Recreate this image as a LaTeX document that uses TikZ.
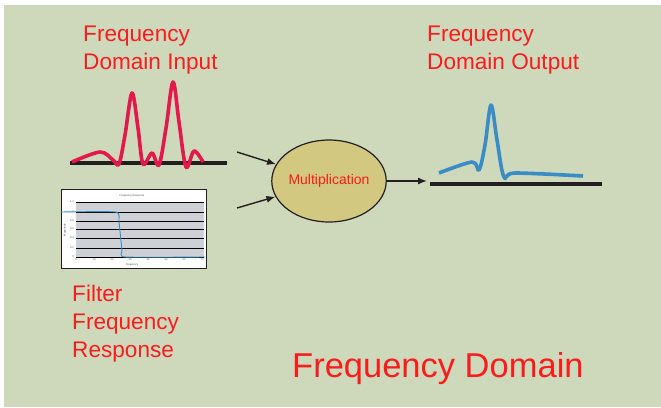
\documentclass[tikz,border=0pt]{standalone}
\usepackage{fontspec}
\setmainfont{Liberation Sans}
\usetikzlibrary{arrows.meta,shapes.geometric}
\definecolor{bggreen}{HTML}{CED9BB}
\definecolor{labelred}{HTML}{F81C1C}
\definecolor{peakred}{HTML}{E3194B}
\definecolor{peakblue}{HTML}{3A8CC6}
\definecolor{inkblack}{HTML}{231F20}
\definecolor{multfill}{HTML}{D3C880}
\definecolor{plotgrey}{HTML}{CDD0D4}
\begin{document}
\begin{tikzpicture}[x=1pt,y=-1pt,
  lbl/.style={text=labelred,inner sep=0pt,align=left,anchor=base west,font=\fontsize{22.6}{28}\selectfont},
  arr/.style={draw=inkblack,line width=1.4pt,-{Latex[length=9pt,width=7pt]}},
  baseline/.style={draw=inkblack,line width=3.2pt},
  tiny/.style={inner sep=0pt,text=black!70,font=\fontsize{2.6}{3}\selectfont}]
\useasboundingbox (0,0) rectangle (661,407);
\fill[white] (0,0) rectangle (661,407);
\fill[bggreen] (4,5) rectangle (661,407);

% labels (base anchor sits on the last line)
\node[lbl] (inlbl) at (83,69) {Frequency\\Domain Input};
\node[lbl] (outlbl) at (427,69) {Frequency\\Domain Output};
\node[lbl] (filtlbl) at (72,357) {Filter\\Frequency\\Response};
\node[lbl,font=\fontsize{34.5}{40}\selectfont] (domlbl) at (292,377) {Frequency Domain};

% input spectrum
\draw[baseline] (70,163) -- (227,163);
\draw[peakred,line width=3.6pt,line join=round] plot[smooth,tension=0.55] coordinates {
  (72,162) (100,152) (113,160) (119,164) (125,135) (132,93) (138,128) (143,164)
  (152,153) (159,165) (166,128) (173,82) (179,122) (186,167) (194,151) (203,162)};

% output spectrum
\draw[baseline] (430,184) -- (602,184);
\draw[peakblue,line width=3.6pt,line join=round] plot[smooth,tension=0.55] coordinates {
  (439,173) (472,162) (479,170) (485,145) (491,105) (497,140) (504,177) (515,173) (583,176)};

% filter response chart
\draw[inkblack,fill=white,line width=0.9pt] (61,189) rectangle (206,268);
\fill[plotgrey] (76,202) rectangle (204,257);
\foreach \yy in {202,212,221,229,238,248,257}
  \draw[black,line width=0.6pt] (76,\yy) -- (204,\yy);
\foreach \yy/\val in {202/1.2,212/1,221/0.8,229/0.6,238/0.4,248/0.2,257/0}
  \node[tiny,anchor=east] at (74,\yy) {\val};
\foreach \i in {0,...,7}
  \node[tiny,anchor=north] at (76+18*\i,258.5) {\the\numexpr\i*10\relax};
\node[tiny] (ctitle) at (132,196) {Frequency Response};
\node[tiny] (xtitle) at (132,265) {Frequency};
\node[tiny,rotate=90] (ytitle) at (65,230) {Magnitude};
\draw[peakblue,line width=0.9pt] plot[smooth,tension=0.3] coordinates {
  (61,212) (116,212) (119,222) (122,250) (125,257) (205,257)};

% multiplication
\node[ellipse,draw=inkblack,line width=1.2pt,fill=multfill,minimum width=112pt,minimum height=82pt,
  inner sep=0pt,text=labelred,font=\fontsize{14}{16}\selectfont] (mult) at (329,181) {Multiplication};
\coordinate (inA) at (237,152);
\coordinate (inB) at (237,208);
\coordinate (outC) at (427,181);
\draw[arr] (inA) -- (mult);
\draw[arr] (inB) -- (mult);
\draw[arr] (mult) -- (outC);
\end{tikzpicture}
\end{document}
